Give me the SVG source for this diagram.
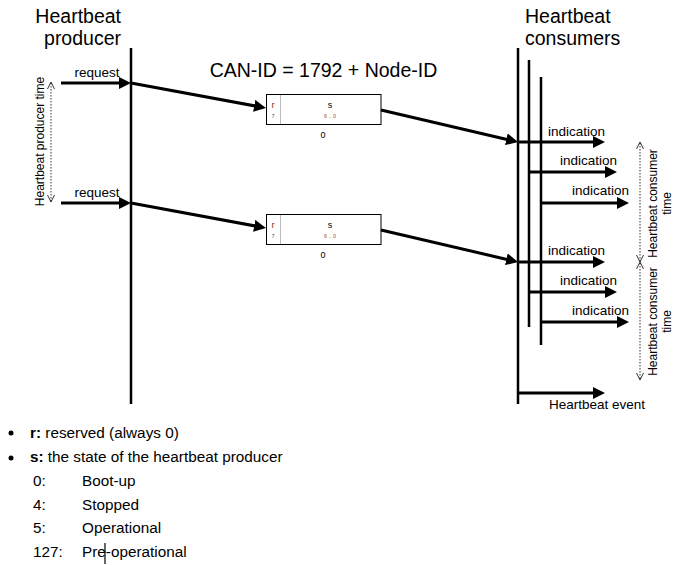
<svg xmlns="http://www.w3.org/2000/svg" width="677" height="565" viewBox="0 0 677 565">
<style>
text{font-family:"Liberation Sans",Arial,sans-serif;fill:#000}
.hd{font-size:19.5px}
.lb{font-size:13.5px}
.rt{font-size:12px}
.li{font-size:15.3px}
.bx{font-size:9px}
.tn{font-size:5.5px}
.ln{stroke:#000;stroke-width:2.5;fill:none}
.ar{stroke:#000;stroke-width:3;fill:none;marker-end:url(#ah)}
.dt{stroke:#000;stroke-width:0.8;stroke-dasharray:1.5 1.5;fill:none}
.ch{stroke:#000;stroke-width:0.8;fill:none}
.box{fill:#fff;stroke:#000;stroke-width:1}
</style>
<defs>
<marker id="ah" viewBox="0 0 12 12" markerWidth="12" markerHeight="12" markerUnits="userSpaceOnUse" refX="3" refY="6" orient="auto">
<path d="M0,0 L12,6 L0,12 z" fill="#000"/>
</marker>
</defs>
<rect width="677" height="565" fill="#fff"/>

<g id="producer">
<text class="hd" x="121" y="23" text-anchor="end">Heartbeat</text>
<text class="hd" x="121" y="45" text-anchor="end">producer</text>
<line class="ln" x1="131" y1="48" x2="131" y2="404" stroke-width="2"/>
</g>

<g id="consumers">
<text class="hd" x="525" y="23">Heartbeat</text>
<text class="hd" x="525" y="45">consumers</text>
<line class="ln" x1="518" y1="48" x2="518" y2="404"/>
<line class="ln" x1="529" y1="60" x2="529" y2="327"/>
<line class="ln" x1="541" y1="77" x2="541" y2="345"/>
</g>

<text id="canid" class="hd" x="323.5" y="77" text-anchor="middle">CAN-ID = 1792 + Node-ID</text>

<g id="frame1">
<rect class="box" x="266.5" y="94.5" width="114.5" height="30"/>
<line x1="280.5" y1="95" x2="280.5" y2="124" stroke="#bbb" stroke-width="1"/>
<text class="bx" x="273" y="108" text-anchor="middle" style="fill:#8a3000">r</text>
<text class="tn" x="273" y="118" text-anchor="middle" style="fill:#3a4a8a">7</text>
<text class="bx" x="330" y="108" text-anchor="middle">s</text>
<text class="tn" x="330" y="118" text-anchor="middle" style="fill:#a0522d">6 .. 0</text>
<text x="323" y="138" font-size="9" text-anchor="middle">0</text>
</g>

<g id="frame2">
<rect class="box" x="266.5" y="214.5" width="114.5" height="30"/>
<line x1="280.5" y1="215" x2="280.5" y2="244" stroke="#bbb" stroke-width="1"/>
<text class="bx" x="273" y="228" text-anchor="middle" style="fill:#8a3000">r</text>
<text class="tn" x="273" y="238" text-anchor="middle" style="fill:#3a4a8a">7</text>
<text class="bx" x="330" y="228" text-anchor="middle">s</text>
<text class="tn" x="330" y="238" text-anchor="middle" style="fill:#a0522d">6 .. 0</text>
<text x="323" y="258" font-size="9" text-anchor="middle">0</text>
</g>

<g id="connectors">
<line class="ar" x1="61" y1="83" x2="122" y2="83"/>
<line class="ar" x1="61" y1="203" x2="122" y2="203"/>
<line class="ar" x1="131" y1="83" x2="257.15" y2="106.36"/>
<line class="ar" x1="381" y1="110" x2="509.24" y2="139.95"/>
<line class="ar" x1="131" y1="203" x2="257.15" y2="226.36"/>
<line class="ar" x1="381" y1="230" x2="509.24" y2="259.95"/>
<line class="ar" x1="518" y1="142" x2="596" y2="142"/>
<line class="ar" x1="529" y1="172" x2="608" y2="172"/>
<line class="ar" x1="541" y1="203" x2="620" y2="203"/>
<line class="ar" x1="518" y1="262" x2="596" y2="262"/>
<line class="ar" x1="529" y1="292" x2="608" y2="292"/>
<line class="ar" x1="541" y1="322" x2="620" y2="322"/>
<line class="ar" x1="518" y1="393" x2="596" y2="393"/>
</g>

<g id="labels">
<text class="lb" x="97" y="77" text-anchor="middle">request</text>
<text class="lb" x="97" y="197" text-anchor="middle">request</text>
<text class="lb" x="548" y="136">indication</text>
<text class="lb" x="560" y="165">indication</text>
<text class="lb" x="572" y="195">indication</text>
<text class="lb" x="548" y="255">indication</text>
<text class="lb" x="560" y="285">indication</text>
<text class="lb" x="572" y="315">indication</text>
<text class="lb" x="549" y="409">Heartbeat event</text>
</g>

<g id="producer-time">
<line class="dt" x1="51" y1="83" x2="51" y2="201"/>
<path class="ch" d="M47.5,89 L51,82 L54.5,89 M47.5,195 L51,202 L54.5,195"/>
<text class="rt" transform="translate(44,141.5) rotate(-90)" text-anchor="middle">Heartbeat producer time</text>
</g>

<g id="consumer-time-1">
<line class="dt" x1="640" y1="143" x2="640" y2="261"/>
<path class="ch" d="M636.5,149 L640,142 L643.5,149 M636.5,255 L640,262 L643.5,255"/>
<text class="rt" transform="translate(657,203.5) rotate(-90)" text-anchor="middle">Heartbeat consumer</text>
<text class="rt" transform="translate(671,203.5) rotate(-90)" text-anchor="middle">time</text>
</g>

<g id="consumer-time-2">
<line class="dt" x1="640" y1="263" x2="640" y2="379"/>
<path class="ch" d="M636.5,269 L640,262 L643.5,269 M636.5,373 L640,380 L643.5,373"/>
<text class="rt" transform="translate(657,321.5) rotate(-90)" text-anchor="middle">Heartbeat consumer</text>
<text class="rt" transform="translate(671,321.5) rotate(-90)" text-anchor="middle">time</text>
</g>

<g id="legend">
<circle cx="11" cy="433" r="2.5" fill="#000"/>
<circle cx="11" cy="458" r="2.5" fill="#000"/>
<text class="li" x="30" y="438"><tspan font-weight="bold">r:</tspan> reserved (always 0)</text>
<text class="li" x="30" y="462"><tspan font-weight="bold">s:</tspan> the state of the heartbeat producer</text>
<text class="li" x="33" y="486">0:</text>
<text class="li" x="82" y="486">Boot-up</text>
<text class="li" x="33" y="510">4:</text>
<text class="li" x="82" y="510">Stopped</text>
<text class="li" x="33" y="533">5:</text>
<text class="li" x="82" y="533">Operational</text>
<text class="li" x="33" y="557">127:</text>
<text class="li" x="82" y="557">Pre-operational</text>
<line x1="105" y1="543" x2="105" y2="564" stroke="#000" stroke-width="1.2"/>
</g>
</svg>
